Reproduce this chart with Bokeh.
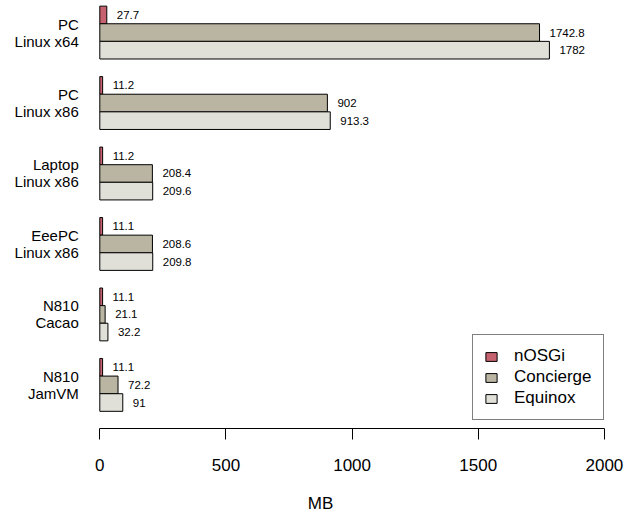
from bokeh.plotting import figure
from bokeh.models import Range1d, FixedTicker, ColumnDataSource, Legend, LegendItem
from bokeh.core.properties import value
from bokeh.embed import file_html
from bokeh.resources import INLINE

# ---- data ----
groups = ["PC\nLinux x64", "PC\nLinux x86", "Laptop\nLinux x86",
          "EeePC\nLinux x86", "N810\nCacao", "N810\nJamVM"]
series = ["nOSGi", "Concierge", "Equinox"]
nosgi = [27.7, 11.2, 11.2, 11.1, 11.1, 11.1]
concierge = [1742.8, 902, 208.4, 208.6, 21.1, 72.2]
equinox = [1782, 913.3, 209.6, 209.8, 32.2, 91]
x_ticks = [0, 500, 1000, 1500, 2000]
colors = ["#C6626F", "#BAB4A2", "#E0E0D9"]

FONT = "Liberation Sans"
n = len(groups)

p = figure(width=640, height=515, output_backend="svg", toolbar_location=None,
           x_range=Range1d(-393.6, 2143), y_range=Range1d(0.025, 24.32),
           y_axis_location=None, min_border_left=0, min_border_right=0,
           min_border_top=0, min_border_bottom=0)
p.outline_line_color = None
p.xgrid.visible = False
p.ygrid.visible = False
p.background_fill_color = "white"
p.border_fill_color = "white"

renderers = []
for s, (name, vals, col) in enumerate(zip(series, [nosgi, concierge, equinox], colors)):
    ys = [(n - 1 - g) * 4 + (2 - s) + 1.5 for g in range(n)]
    src = ColumnDataSource(dict(y=ys, right=vals,
                                lab=[f"{v:g}" for v in vals]))
    r = p.hbar(y="y", left=0, right="right", height=1.0, source=src,
               fill_color=col, line_color="black", line_width=1)
    renderers.append((name, r))
    p.text(x="right", y="y", text="lab", source=src, x_offset=10,
           text_align="left", text_baseline="middle",
           text_font=value(FONT), text_font_size="11.5px", text_color="black")

gsrc = ColumnDataSource(dict(x=[0] * n, y=[(n - 1 - g) * 4 + 2.5 for g in range(n)],
                             t=groups))
p.text(x="x", y="y", text="t", source=gsrc, x_offset=-21,
       text_align="right", text_baseline="middle", text_line_height=1.0,
       text_font=value(FONT), text_font_size="15px", text_color="black")

ax = p.xaxis[0]
ax.bounds = (0, 2000)
ax.ticker = FixedTicker(ticks=x_ticks)
ax.axis_line_color = "black"
ax.major_tick_line_color = "black"
ax.major_tick_out = 11
ax.major_tick_in = 0
ax.minor_tick_line_color = None
ax.major_label_standoff = 19
ax.major_label_text_font = FONT
ax.major_label_text_font_size = "17px"
ax.major_label_text_color = "black"
ax.axis_label = "MB"
ax.axis_label_text_font = FONT
ax.axis_label_text_font_size = "17px"
ax.axis_label_text_font_style = "normal"
ax.axis_label_text_color = "black"
ax.axis_label_standoff = 20

legend = Legend(items=[LegendItem(label=nm, renderers=[r]) for nm, r in renderers],
                location=(472, 8))
legend.border_line_color = "black"
legend.border_line_width = 1
legend.background_fill_color = "white"
legend.background_fill_alpha = 1
legend.label_text_font = FONT
legend.label_text_font_size = "17px"
legend.label_text_color = "black"
legend.glyph_width = 14
legend.glyph_height = 11
legend.label_standoff = 16
legend.label_height = 20
legend.spacing = 1
legend.padding = 11
legend.margin = 0
p.add_layout(legend, "center")

open("out.html", "w").write(file_html(p, INLINE))
